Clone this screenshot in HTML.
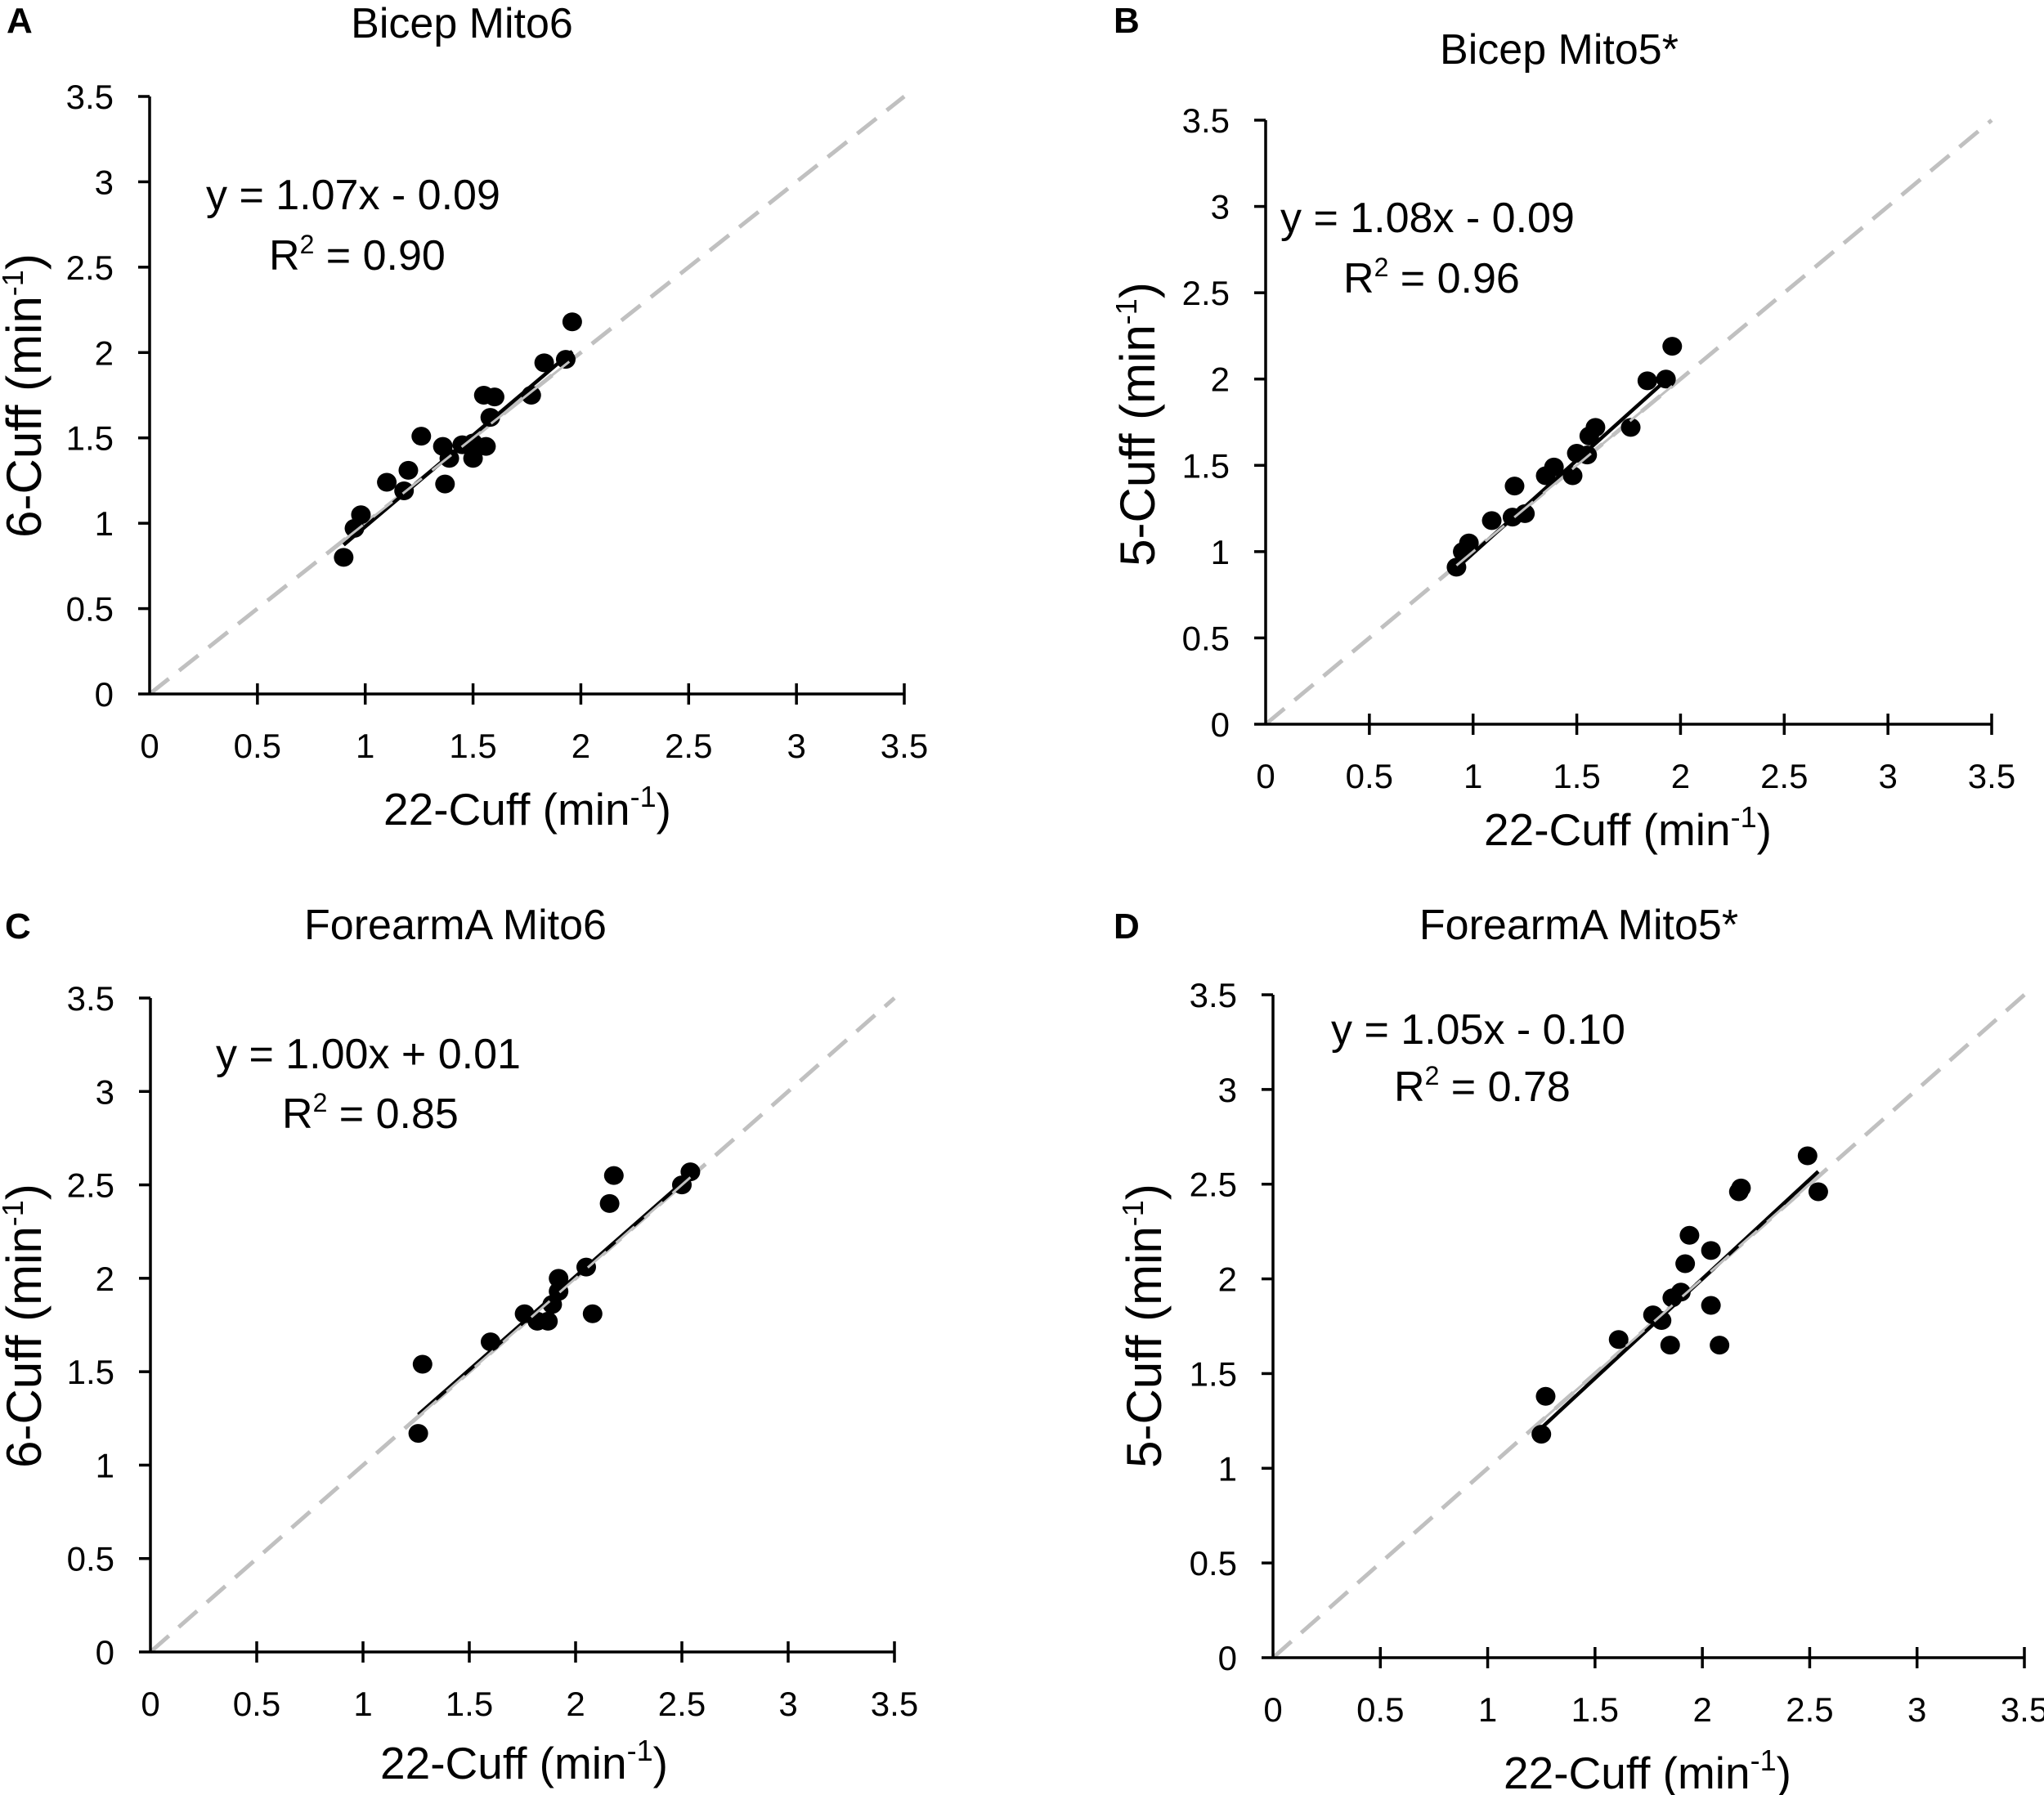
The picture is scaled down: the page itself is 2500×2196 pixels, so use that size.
<!DOCTYPE html>
<html><head><meta charset="utf-8"><style>
body{margin:0;background:#fff}
svg{display:block;font-family:"Liberation Sans",sans-serif}
</style></head><body>
<svg id="fig" width="2500" height="2196" viewBox="0 0 2500 2196" xmlns="http://www.w3.org/2000/svg"></svg>
<script>
// ---- data ----
const ticks = [0, 0.5, 1, 1.5, 2, 2.5, 3, 3.5];
const tickLabels = ["0", "0.5", "1", "1.5", "2", "2.5", "3", "3.5"];
const titles = ["Bicep Mito6", "Bicep Mito5*", "ForearmA Mito6", "ForearmA Mito5*"];
const panelLetters = ["A", "B", "C", "D"];
const yTitles = ["6-Cuff", "5-Cuff", "6-Cuff", "5-Cuff"];
const equations = ["y = 1.07x - 0.09", "y = 1.08x - 0.09", "y = 1.00x + 0.01", "y = 1.05x - 0.10"];
const r2Values = ["0.90", "0.96", "0.85", "0.78"];
const slopes = [1.07, 1.08, 1.00, 1.05];
const intercepts = [-0.09, -0.09, 0.01, -0.10];

const xA = [0.90,0.95,0.98,1.10,1.18,1.20,1.26,1.36,1.37,1.39,1.45,1.50,1.50,1.56,1.55,1.60,1.58,1.77,1.83,1.93,1.96];
const yA = [0.80,0.97,1.05,1.24,1.19,1.31,1.51,1.45,1.23,1.38,1.46,1.38,1.47,1.45,1.75,1.74,1.62,1.75,1.94,1.96,2.18];
const xB = [0.92,0.95,0.98,1.09,1.19,1.20,1.25,1.35,1.39,1.48,1.50,1.55,1.56,1.59,1.76,1.84,1.93,1.96];
const yB = [0.91,1.00,1.05,1.18,1.20,1.38,1.22,1.44,1.49,1.44,1.57,1.56,1.67,1.72,1.72,1.99,2.00,2.19];
const xC = [1.26,1.28,1.60,1.76,1.82,1.87,1.89,1.92,1.92,2.05,2.08,2.16,2.18,2.50,2.54];
const yC = [1.17,1.54,1.66,1.81,1.77,1.77,1.86,1.93,2.00,2.06,1.81,2.40,2.55,2.50,2.57];
const xD = [1.25,1.27,1.61,1.77,1.81,1.85,1.86,1.90,1.92,1.94,2.04,2.04,2.08,2.17,2.18,2.49,2.54];
const yD = [1.18,1.38,1.68,1.81,1.78,1.65,1.90,1.93,2.08,2.23,2.15,1.86,1.65,2.46,2.48,2.65,2.46];
const xSeries = [xA, xB, xC, xD];
const ySeries = [yA, yB, yC, yD];

// ---- layout (pixels) ----
const layout = [
  {x0:183,x1:1106,y0:849,y1:118, title:[565,46], letter:[8,40], eq:[252,256], r2:[329,330], xt:[645,991], yt:[50,484]},
  {x0:1548,x1:2436,y0:886,y1:147, title:[1907,78], letter:[1362,40], eq:[1566,284], r2:[1643,358], xt:[1991,1016], yt:[1412,519]},
  {x0:184,x1:1094,y0:2021,y1:1221, title:[557,1149], letter:[6,1148], eq:[264,1307], r2:[345,1380], xt:[641,2158], yt:[50,1622]},
  {x0:1557,x1:2476,y0:2028,y1:1217, title:[1931,1149], letter:[1362,1148], eq:[1628,1277], r2:[1705,1347], xt:[2015,2170], yt:[1420,1622]}
];

const NS = "http://www.w3.org/2000/svg";
const svg = document.getElementById("fig");
function mk(tag, attrs, parent){
  const e = document.createElementNS(NS, tag);
  for (const k in attrs) e.setAttribute(k, attrs[k]);
  (parent||svg).appendChild(e);
  return e;
}
function minusOne(parent){
  const s = mk("tspan", {"font-size":"36", dy:"-22"}, parent);
  s.textContent = "-1";
  const c = mk("tspan", {dy:"22"}, parent);
  c.textContent = ")";
}

layout.forEach((L, p) => {
  const g = mk("g", {});
  
  
  const sx = v => L.x0 + v / 3.5 * (L.x1 - L.x0);
  const sy = v => L.y0 - v / 3.5 * (L.y0 - L.y1);

  const letter = mk("text", {x:L.letter[0], y:L.letter[1], "font-size":"44", "font-weight":"bold"}, g);
  letter.textContent = panelLetters[p];
  
  

  const title = mk("text", {x:L.title[0], y:L.title[1], "font-size":"52", "text-anchor":"middle"}, g);
  title.textContent = titles[p];
  
  

  const idl = mk("line", {x1:sx(0), y1:sy(0), x2:sx(3.5), y2:sy(3.5), stroke:"#c0c0c0", "stroke-width":"5", "stroke-dasharray":"30 16"}, g);
  
  

  const ya = mk("line", {x1:L.x0, y1:L.y0, x2:L.x0, y2:L.y1, stroke:"#000", "stroke-width":"3.5"}, g);
  
  
  const xa = mk("line", {x1:L.x0, y1:L.y0, x2:L.x1, y2:L.y0, stroke:"#000", "stroke-width":"3.5"}, g);
  
  

  ticks.forEach((t, i) => {
    mk("line", {x1:L.x0-14, y1:sy(t), x2:L.x0, y2:sy(t), stroke:"#000", "stroke-width":"3.5"}, g);
    const yl = mk("text", {x:L.x0-44, y:sy(t)+15, "font-size":"42", "text-anchor":"end"}, g);
    yl.textContent = tickLabels[i];
    
    
    if (i > 0) mk("line", {x1:sx(t), y1:L.y0-13, x2:sx(t), y2:L.y0+13, stroke:"#000", "stroke-width":"3.5"}, g);
    const xl = mk("text", {x:sx(t), y:L.y0+78, "font-size":"42", "text-anchor":"middle"}, g);
    xl.textContent = tickLabels[i];
    
    
  });

  const xs = xSeries[p], ys = ySeries[p];
  xs.forEach((xv, i) => {
    const c = mk("ellipse", {cx:sx(xv), cy:sy(ys[i]), rx:12, ry:11.5, fill:"#000"}, g);
    
    
  });

  const xmin = Math.min(...xs), xmax = Math.max(...xs);
  const tl = mk("line", {x1:sx(xmin), y1:sy(slopes[p]*xmin+intercepts[p]), x2:sx(xmax), y2:sy(slopes[p]*xmax+intercepts[p]), stroke:"#000", "stroke-width":"4.5"}, g);
  
  
  mk("line", {x1:sx(xmin), y1:sy(xmin), x2:sx(xmax), y2:sy(xmax), stroke:"#c0c0c0", "stroke-width":"3", "stroke-dasharray":"30 16"}, g);

  const eq = mk("text", {x:L.eq[0], y:L.eq[1], "font-size":"52"}, g);
  eq.textContent = equations[p];
  
  
  const r2 = mk("text", {x:L.r2[0], y:L.r2[1], "font-size":"52"}, g);
  
  
  const a = mk("tspan", {}, r2); a.textContent = "R";
  const b = mk("tspan", {"font-size":"32", dy:"-20"}, r2); b.textContent = "2";
  const c2 = mk("tspan", {dy:"20"}, r2); c2.textContent = " = " + r2Values[p];

  const xt = mk("text", {x:L.xt[0], y:L.xt[1]+18, "font-size":"55", "text-anchor":"middle"}, g);
  
  
  const xt1 = mk("tspan", {}, xt); xt1.textContent = "22-Cuff (min";
  minusOne(xt);

  const yt = mk("text", {x:0, y:0, "font-size":"60", "text-anchor":"middle", transform:`translate(${L.yt[0]},${L.yt[1]}) rotate(-90)`}, g);
  
  
  const yt1 = mk("tspan", {}, yt); yt1.textContent = yTitles[p] + " (min";
  minusOne(yt);
});
</script>
</body></html>
